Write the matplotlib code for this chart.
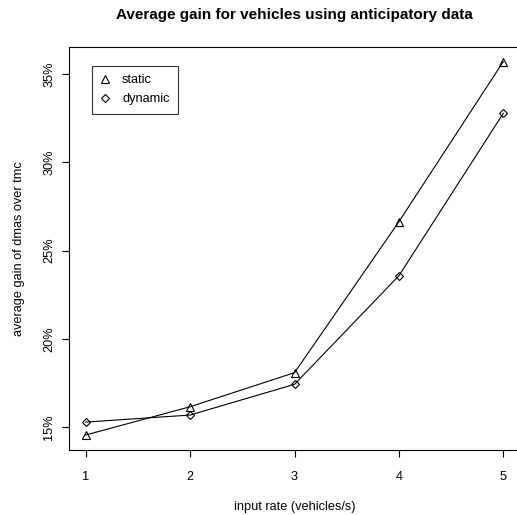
import matplotlib
matplotlib.use("Agg")
import matplotlib.pyplot as plt
from matplotlib.lines import Line2D

plt.rcParams['font.family'] = ['Liberation Sans', 'DejaVu Sans']

rates = [1, 2, 3, 4, 5]
static = [14.55, 16.15, 18.08, 26.63, 35.70]
dynamic = [15.28, 15.68, 17.42, 23.57, 32.77]
yticks = [15, 20, 25, 30, 35]
ytick_labels = ["15%", "20%", "25%", "30%", "35%"]

W, H = 517, 515
FS = 9.2
fig = plt.figure(figsize=(W / 100, H / 100), dpi=100)
left, right, top, bottom = 69, 520, 46.6, 450
ax = fig.add_axes([left / W, 1 - bottom / H, (right - left) / W, (bottom - top) / H])

ax.plot(rates, static, color='black', lw=0.8, marker='^', ms=5.8, mfc='none', mec='black', mew=0.8)
ax.plot(rates, dynamic, color='black', lw=0.8, marker='D', ms=4.4, mfc='none', mec='black', mew=0.8)

ax.set_xlim(0.84, 5.16)
ax.set_ylim(13.70, 36.55)
ax.set_xticks(rates)
ax.set_xticklabels([str(r) for r in rates])
ax.set_yticks(yticks)
ax.set_yticklabels(ytick_labels, rotation=90, va='center')

ax.tick_params(axis='both', direction='out', length=5, width=0.8, labelsize=FS, color='black')
ax.tick_params(axis='x', pad=9.8)
ax.tick_params(axis='y', pad=5)
for s in ax.spines.values():
    s.set_linewidth(0.8)
ax.spines['right'].set_visible(False)

ax.set_xlabel("input rate (vehicles/s)", fontsize=FS, labelpad=13)
ax.set_ylabel("average gain of dmas over tmc", fontsize=FS, labelpad=13)

fig.text((left + right) / 2 / W, 1 - 15.5 / H, "Average gain for vehicles using anticipatory data",
         ha='center', va='center', fontsize=11, fontweight='bold')

handles = [
    Line2D([], [], ls='none', marker='^', ms=5.3, mfc='none', mec='black', mew=0.8),
    Line2D([], [], ls='none', marker='D', ms=4.0, mfc='none', mec='black', mew=0.8),
]
leg = ax.legend(handles, ["static", "dynamic"], loc='upper left',
                bbox_to_anchor=((92 - left) / (right - left), (bottom - 66) / (bottom - top)),
                borderaxespad=0, fontsize=FS, frameon=True, fancybox=False,
                handlelength=0.8, handletextpad=0.9, borderpad=0.65, labelspacing=0.55)
leg.get_frame().set_edgecolor('black')
leg.get_frame().set_linewidth(0.8)

fig.savefig("out.png", dpi=100)
